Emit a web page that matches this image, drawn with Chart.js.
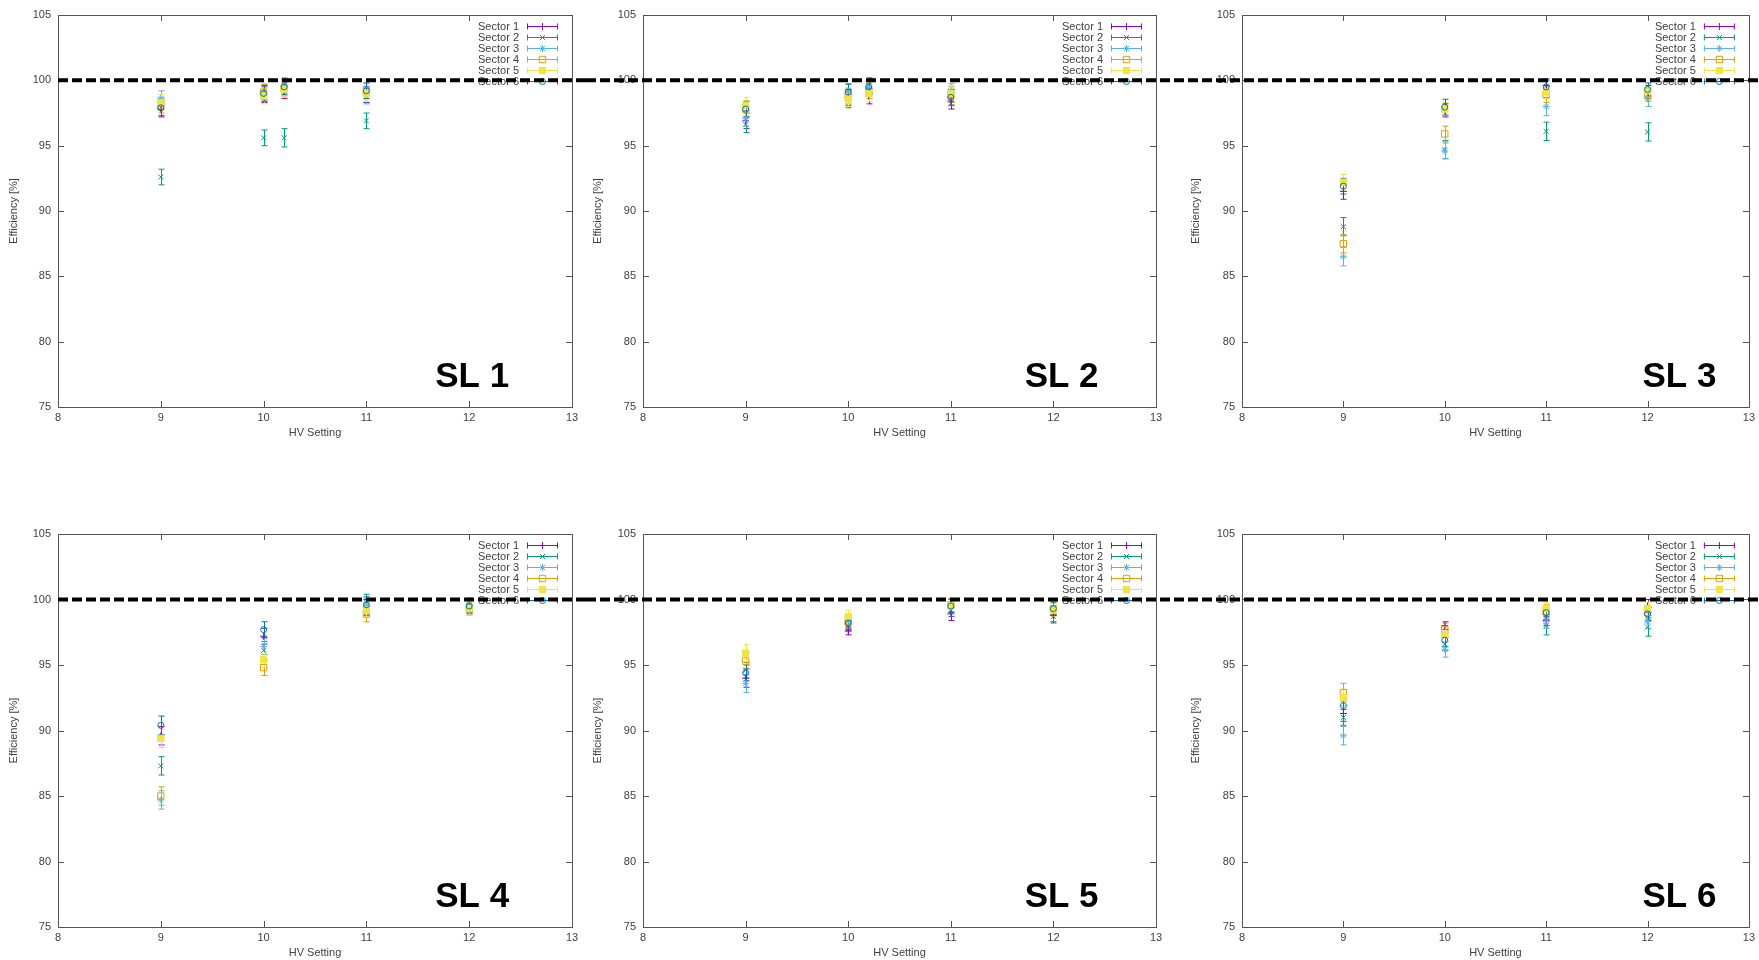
<!DOCTYPE html>
<html>
<head>
<meta charset="utf-8">
<title>Efficiency vs HV setting, SL 1-6</title>
<script src="https://cdn.jsdelivr.net/npm/chart.js@4.4.1/dist/chart.umd.min.js"></script>
<style>
  html, body { margin: 0; padding: 0; background: #fff; }
  #page { position: relative; width: 1759px; height: 960px; overflow: hidden; }
  #page canvas { position: absolute; }
</style>
</head>
<body>
<div id="page"></div>
<script>
// sectors (gnuplot default colours / point types)
const sectorNames = ['Sector 1', 'Sector 2', 'Sector 3', 'Sector 4', 'Sector 5', 'Sector 6'];
const sectorColors = ['#9400D3', '#009E73', '#56B4E9', '#E69F00', '#F0E442', '#0072B2'];
const sectorMarkers = ['cross', 'crossRot', 'star', 'rect', 'rect', 'circle'];
const sectorFilled = [false, false, false, false, true, false];
const markerRadius = [3.5, 3.5, 3.5, 4.5, 4.5, 3];

const xTicks = [8, 9, 10, 11, 12, 13];
const yTicks = [75, 80, 85, 90, 95, 100, 105];
const refLevel = 100;

// SL 1 -- rows are sectors 1..6, columns follow the HV list
const hvSL1 = [9, 10, 10.2, 11];
const effSL1 = [
  [97.8, 98.9, 99.2, 98.9],
  [92.6, 95.6, 95.6, 96.9],
  [98.6, 99.1, 99.6, 98.8],
  [98.1, 99.1, 99.4, 99.2],
  [98.3, 98.8, 99.3, 99.0],
  [97.9, 99.0, 99.5, 99.2]
];
const errSL1 = [
  [0.6, 0.6, 0.6, 0.6],
  [0.6, 0.6, 0.7, 0.6],
  [0.6, 0.6, 0.6, 0.6],
  [0.6, 0.6, 0.6, 0.6],
  [0.6, 0.6, 0.6, 0.6],
  [0.6, 0.6, 0.6, 0.6]
];

// SL 2
const hvSL2 = [9, 10, 10.2, 11];
const effSL2 = [
  [96.9, 98.7, 98.8, 98.4],
  [96.6, 98.5, 99.6, 98.7],
  [97.1, 99.2, 99.5, 99.2],
  [97.8, 98.8, 99.2, 98.9],
  [98.1, 98.6, 99.0, 99.0],
  [97.8, 99.1, 99.5, 98.7]
];
const errSL2 = [
  [0.6, 0.6, 0.6, 0.6],
  [0.6, 0.6, 0.6, 0.6],
  [0.6, 0.55, 0.6, 0.55],
  [0.6, 0.6, 0.6, 0.6],
  [0.6, 0.6, 0.6, 0.6],
  [0.6, 0.6, 0.6, 0.6]
];

// SL 3
const hvSL3 = [9, 10, 11, 12];
const effSL3 = [
  [91.5, 97.7, 99.6, 99.1],
  [88.8, 94.7, 96.1, 96.05],
  [86.5, 94.6, 98.0, 98.6],
  [87.5, 95.9, 98.9, 98.9],
  [92.2, 97.8, 99.1, 99.2],
  [91.9, 97.95, 99.5, 99.3]
];
const errSL3 = [
  [0.6, 0.5, 0.5, 0.5],
  [0.7, 0.7, 0.7, 0.7],
  [0.7, 0.6, 0.7, 0.6],
  [0.7, 0.6, 0.6, 0.5],
  [0.6, 0.5, 0.5, 0.5],
  [0.6, 0.6, 0.5, 0.5]
];

// SL 4
const hvSL4 = [9, 10, 11, 12];
const effSL4 = [
  [89.6, 97.2, 99.4, 99.5],
  [87.3, 96.1, 99.8, 99.5],
  [84.7, 96.4, 99.5, 99.6],
  [85.0, 94.8, 98.9, 99.3],
  [89.4, 95.4, 99.2, 99.3],
  [90.4, 97.7, 99.6, 99.5]
];
const errSL4 = [
  [0.7, 0.6, 0.6, 0.6],
  [0.7, 0.7, 0.6, 0.5],
  [0.7, 0.6, 0.6, 0.5],
  [0.7, 0.6, 0.6, 0.5],
  [0.7, 0.6, 0.6, 0.5],
  [0.7, 0.6, 0.6, 0.5]
];

// SL 5
const hvSL5 = [9, 10, 11, 12];
const effSL5 = [
  [94.0, 97.6, 98.9, 98.8],
  [94.6, 98.0, 99.2, 98.7],
  [93.6, 98.3, 99.5, 99.4],
  [95.3, 98.3, 99.6, 99.3],
  [95.9, 98.7, 99.5, 99.2],
  [94.4, 98.2, 99.5, 99.3]
];
const errSL5 = [
  [0.7, 0.3, 0.5, 0.5],
  [0.6, 0.4, 0.5, 0.5],
  [0.7, 0.5, 0.5, 0.5],
  [0.6, 0.5, 0.5, 0.5],
  [0.65, 0.45, 0.5, 0.5],
  [0.6, 0.5, 0.5, 0.5]
];

// SL 6
const hvSL6 = [9, 10, 11, 12];
const effSL6 = [
  [91.3, 98.0, 98.4, 99.5],
  [91.0, 96.6, 98.0, 97.9],
  [89.6, 96.2, 98.3, 98.3],
  [92.9, 97.7, 99.1, 99.0],
  [92.5, 97.3, 99.3, 99.3],
  [91.9, 96.9, 99.0, 98.9]
];
const errSL6 = [
  [0.6, 0.3, 0.4, 0.5],
  [0.6, 0.5, 0.7, 0.7],
  [0.7, 0.6, 0.5, 0.5],
  [0.7, 0.5, 0.5, 0.5],
  [0.6, 0.5, 0.5, 0.5],
  [0.6, 0.5, 0.5, 0.5]
];

const panels = [
  { name: 'SL 1', hv: hvSL1, eff: effSL1, err: errSL1, col: 0, row: 0 },
  { name: 'SL 2', hv: hvSL2, eff: effSL2, err: errSL2, col: 1, row: 0 },
  { name: 'SL 3', hv: hvSL3, eff: effSL3, err: errSL3, col: 2, row: 0 },
  { name: 'SL 4', hv: hvSL4, eff: effSL4, err: errSL4, col: 0, row: 1 },
  { name: 'SL 5', hv: hvSL5, eff: effSL5, err: errSL5, col: 1, row: 1 },
  { name: 'SL 6', hv: hvSL6, eff: effSL6, err: errSL6, col: 2, row: 1 }
];

// page grid: each panel is its own canvas
const columns = [
  { left: 0,    width: 586, axisW: 58, titlePad: 7,    padRight: 14, labelX: 11.67, lineFromEdge: false },
  { left: 586,  width: 588, axisW: 57, titlePad: 5.4,  padRight: 18, labelX: 11.72, lineFromEdge: true },
  { left: 1174, width: 585, axisW: 68, titlePad: 15.4, padRight: 6,  labelX: 11.95, lineFromEdge: true }
];
const rows = [
  { top: 0,   height: 480, padTop: 15, padBottom: 40 },
  { top: 480, height: 480, padTop: 54, padBottom: 0 }
];

const FONT = '"Liberation Sans", Arial, sans-serif';
const TEXT_COLOR = '#404040';
const FRAME_COLOR = '#555';

// error bars, frame with inward ticks, key, panel tag and the 100% line
const decor = {
  id: 'decor',
  beforeDatasetsDraw(chart) {
    const { ctx, scales: { x, y } } = chart;
    ctx.save();
    ctx.lineWidth = 1;
    chart.data.datasets.forEach(ds => {
      ctx.strokeStyle = ds.borderColor;
      ds.data.forEach((p, j) => {
        const px = Math.round(x.getPixelForValue(p.x)) + 0.5;
        const top = y.getPixelForValue(p.y + ds.errors[j]);
        const bot = y.getPixelForValue(p.y - ds.errors[j]);
        ctx.beginPath();
        ctx.moveTo(px, top); ctx.lineTo(px, bot);
        ctx.moveTo(px - 3, top); ctx.lineTo(px + 3, top);
        ctx.moveTo(px - 3, bot); ctx.lineTo(px + 3, bot);
        ctx.stroke();
      });
    });
    ctx.restore();
  },
  afterDraw(chart, args, opts) {
    const { ctx, chartArea: a, scales: { x, y } } = chart;
    ctx.save();

    // border + mirrored ticks pointing inwards
    ctx.strokeStyle = FRAME_COLOR;
    ctx.lineWidth = 1;
    ctx.strokeRect(Math.round(a.left) + 0.5, Math.round(a.top) + 0.5,
                   Math.round(a.width), Math.round(a.height));
    ctx.beginPath();
    y.ticks.forEach(t => {
      const py = Math.round(y.getPixelForValue(t.value)) + 0.5;
      ctx.moveTo(a.left, py); ctx.lineTo(a.left + 6, py);
      ctx.moveTo(a.right, py); ctx.lineTo(a.right - 6, py);
    });
    x.ticks.forEach(t => {
      const px = Math.round(x.getPixelForValue(t.value)) + 0.5;
      ctx.moveTo(px, a.bottom); ctx.lineTo(px, a.bottom - 6);
      ctx.moveTo(px, a.top); ctx.lineTo(px, a.top + 6);
    });
    ctx.stroke();

    // key in the top right corner
    ctx.font = '11px ' + FONT;
    ctx.textAlign = 'right';
    ctx.textBaseline = 'middle';
    chart.data.datasets.forEach((ds, i) => {
      const ly = Math.round(a.top + 10.5 + i * 11.1) + 0.5;
      const x1 = a.right - 45, x2 = a.right - 14;
      ctx.fillStyle = TEXT_COLOR;
      ctx.fillText(ds.label, a.right - 53, ly);
      ctx.strokeStyle = ds.borderColor;
      ctx.lineWidth = 1;
      ctx.beginPath();
      ctx.moveTo(x1, ly); ctx.lineTo(x2, ly);
      ctx.moveTo(x1 + 0.5, ly - 3); ctx.lineTo(x1 + 0.5, ly + 3);
      ctx.moveTo(x2 - 0.5, ly - 3); ctx.lineTo(x2 - 0.5, ly + 3);
      ctx.stroke();
      ctx.fillStyle = ds.backgroundColor;
      Chart.helpers.drawPoint(ctx, {
        pointStyle: ds.pointStyle, radius: ds.pointRadius, rotation: 0, borderWidth: 1
      }, (x1 + x2) / 2, ly);
    });

    // panel tag
    ctx.fillStyle = '#000';
    ctx.font = 'bold 35px ' + FONT;
    ctx.textAlign = 'left';
    ctx.textBaseline = 'alphabetic';
    ctx.fillText(opts.tag, x.getPixelForValue(opts.tagX), y.getPixelForValue(76.5));

    // 100% reference, runs on across the neighbouring panels
    const ry = y.getPixelForValue(refLevel);
    ctx.strokeStyle = '#000';
    ctx.lineWidth = 4;
    ctx.setLineDash([10, 4]);
    ctx.beginPath();
    ctx.moveTo(opts.lineFromEdge ? 0 : a.left, ry);
    ctx.lineTo(chart.width, ry);
    ctx.stroke();

    ctx.restore();
  }
};

const page = document.getElementById('page');

panels.forEach(p => {
  const col = columns[p.col];
  const row = rows[p.row];
  const canvas = document.createElement('canvas');
  canvas.width = col.width;
  canvas.height = row.height;
  canvas.style.left = col.left + 'px';
  canvas.style.top = row.top + 'px';
  page.appendChild(canvas);

  const tickFont = { family: FONT, size: 11 };

  new Chart(canvas, {
    type: 'scatter',
    data: {
      datasets: sectorNames.map((name, i) => ({
        label: name,
        data: p.hv.map((hv, j) => ({ x: hv, y: p.eff[i][j] })),
        errors: p.err[i],
        borderColor: sectorColors[i],
        backgroundColor: sectorFilled[i] ? sectorColors[i] : 'rgba(0,0,0,0)',
        pointStyle: sectorMarkers[i],
        pointRadius: markerRadius[i],
        pointBorderWidth: 1,
        order: 5 - i
      }))
    },
    options: {
      responsive: false,
      animation: false,
      events: [],
      layout: { padding: { left: 0, right: col.padRight, top: row.padTop, bottom: row.padBottom } },
      plugins: {
        legend: { display: false },
        tooltip: { enabled: false },
        decor: { tag: p.name, tagX: col.labelX, lineFromEdge: col.lineFromEdge }
      },
      scales: {
        x: {
          type: 'linear',
          min: xTicks[0],
          max: xTicks[xTicks.length - 1],
          afterBuildTicks: s => { s.ticks = xTicks.map(v => ({ value: v })); },
          afterFit: s => { s.height = 33; },
          grid: { display: false, drawTicks: false },
          border: { display: false },
          ticks: { padding: 4, color: TEXT_COLOR, font: tickFont, maxRotation: 0, autoSkip: false },
          title: { display: true, text: 'HV Setting', color: TEXT_COLOR, font: tickFont, padding: 0 }
        },
        y: {
          type: 'linear',
          min: yTicks[0],
          max: yTicks[yTicks.length - 1],
          afterBuildTicks: s => { s.ticks = yTicks.map(v => ({ value: v })); },
          afterFit: s => { s.width = col.axisW; },
          grid: { display: false, drawTicks: false },
          border: { display: false },
          ticks: { padding: 7, color: TEXT_COLOR, font: tickFont, autoSkip: false },
          title: {
            display: true, text: 'Efficiency [%]', color: TEXT_COLOR, font: tickFont,
            padding: { top: col.titlePad, bottom: 0 }
          }
        }
      }
    },
    plugins: [decor]
  });
});
</script>
</body>
</html>
